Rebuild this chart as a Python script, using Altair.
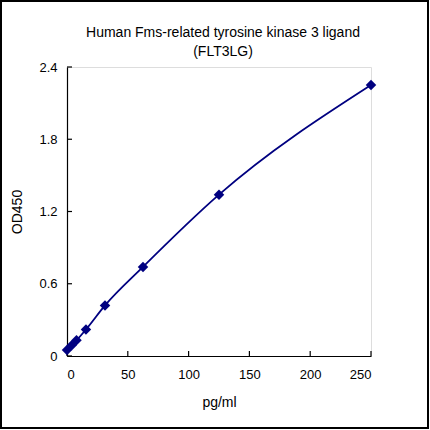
import altair as alt
import pandas as pd

conc = [0, 3.9, 7.8, 15.6, 31.25, 62.5, 125, 250]
od = [0.05, 0.09, 0.13, 0.22, 0.42, 0.74, 1.34, 2.25]
x_ticks = [0, 50, 100, 150, 200, 250]
y_ticks = [0, 0.6, 1.2, 1.8, 2.4]
title_lines = ["Human Fms-related tyrosine kinase 3 ligand", "(FLT3LG)"]

df = pd.DataFrame({"conc": conc, "od": od})
FONT = "Liberation Sans"

xs = alt.Scale(domain=[0, 250], nice=False)
ys = alt.Scale(domain=[0, 2.4], nice=False)

x = alt.X("conc:Q", title="pg/ml", scale=xs,
          axis=alt.Axis(values=x_ticks, grid=False, ticks=False,
                        domainColor="black", domainWidth=1.2,
                        labelColor="black", labelFontSize=13, labelPadding=12,
                        titleFontSize=14, titleFontWeight="normal", titleColor="black",
                        titlePadding=14, labelFont=FONT, titleFont=FONT))
y = alt.Y("od:Q", title="OD450", scale=ys,
          axis=alt.Axis(values=y_ticks, grid=False, ticks=False,
                        labelExpr="datum.value == 0 ? '0' : format(datum.value, '.1f')",
                        domainColor="black", domainWidth=1.2,
                        labelColor="black", labelFontSize=13, labelPadding=10,
                        titleFontSize=14, titleFontWeight="normal", titleColor="black",
                        titlePadding=14, labelFont=FONT, titleFont=FONT))

line = alt.Chart(df).mark_line(color="#000080", strokeWidth=1.8, interpolate="monotone").encode(x=x, y=y)
pts = alt.Chart(df).mark_point(shape="diamond", filled=True, color="#000080", size=110, opacity=1).encode(x=x, y=y)

xt = alt.Chart(pd.DataFrame({"conc": x_ticks})).mark_rule(color="black", strokeWidth=1.2).encode(
    x=x, y=alt.value(289), y2=alt.value(284))
yt = alt.Chart(pd.DataFrame({"od": y_ticks})).mark_rule(color="black", strokeWidth=1.2).encode(
    y=y, x=alt.value(0), x2=alt.value(5))

frame = alt.Chart(df).mark_rect(fill=None, stroke="black", strokeWidth=1.5, clip=False).encode(
    x=alt.value(-66), x2=alt.value(361), y=alt.value(-66), y2=alt.value(361))

t1 = alt.Chart(pd.DataFrame({"t": [title_lines[0]]})).mark_text(
    font=FONT, fontSize=14, color="black", align="center", baseline="middle"
).encode(text="t:N", x=alt.value(156), y=alt.value(-34))
t2 = alt.Chart(pd.DataFrame({"t": [title_lines[1]]})).mark_text(
    font=FONT, fontSize=14, color="black", align="center", baseline="middle"
).encode(text="t:N", x=alt.value(156), y=alt.value(-15))

chart = alt.layer(frame, xt, yt, line, pts, t1, t2).properties(
    width=304, height=289,
    padding={"left": 67, "top": 67, "right": 59, "bottom": 74},
    autosize=alt.AutoSizeParams(type="none"),
).configure_view(stroke=None).configure(background="white")

chart.save("out.html", embed_options={"renderer": "svg", "actions": False})
